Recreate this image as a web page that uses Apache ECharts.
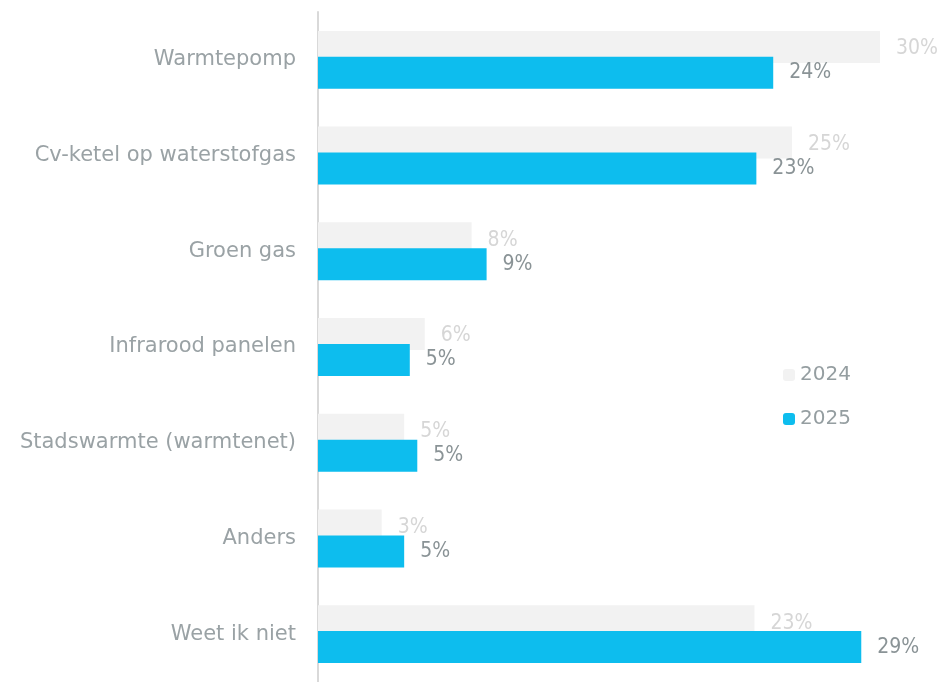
<!DOCTYPE html>
<html>
<head>
<meta charset="utf-8">
<script src="https://cdn.jsdelivr.net/npm/echarts@6/dist/echarts.min.js"></script>
<style>
  html, body { margin: 0; padding: 0; background: #fff; }
  #chart { width: 937px; height: 682px; }
</style>
</head>
<body>
<div id="chart"></div>
<script>
const categories = ['Warmtepomp', 'Cv-ketel op waterstofgas', 'Groen gas', 'Infrarood panelen',
  'Stadswarmte (warmtenet)', 'Anders', 'Weet ik niet'];
const years = ['2024', '2025'];
const values2024 = [30.0, 25.3, 8.2, 5.7, 4.6, 3.4, 23.3];
const values2025 = [24.3, 23.4, 9.0, 4.9, 5.3, 4.6, 29.0];

const labelFont = '"DejaVu Sans Condensed", "DejaVu Sans", sans-serif';
const pct = p => Math.round(p.value) + '%';

const chart = echarts.init(document.getElementById('chart'));
chart.setOption({
  animation: false,
  grid: { left: 318, right: 57, top: 12, bottom: 0, containLabel: false },
  legend: {
    data: years,
    orient: 'vertical',
    left: 778,
    top: 360,
    itemWidth: 12,
    itemHeight: 12,
    itemGap: 24,
    textStyle: { color: '#959ea1', fontSize: 20, fontFamily: 'DejaVu Sans' }
  },
  xAxis: {
    type: 'value',
    min: 0,
    max: 30,
    show: false
  },
  yAxis: {
    type: 'category',
    data: categories,
    inverse: true,
    axisLine: { show: true, lineStyle: { color: '#d9d9d9', width: 2 } },
    axisTick: { show: false },
    axisLabel: {
      color: '#9aa2a5', fontSize: 21, fontFamily: 'DejaVu Sans', margin: 22,
      padding: [4, 0, 0, 0]
    }
  },
  series: [
    {
      name: years[0],
      type: 'bar',
      data: values2024,
      barWidth: 32,
      barGap: '-19%',
      itemStyle: { color: '#f2f2f2' },
      label: {
        show: true, position: 'right', distance: 16, offset: [0, 2], formatter: pct,
        color: '#d6d6d6', fontSize: 21, fontFamily: labelFont
      }
    },
    {
      name: years[1],
      type: 'bar',
      data: values2025,
      barWidth: 32,
      barGap: '-19%',
      itemStyle: { color: '#0dbdee' },
      label: {
        show: true, position: 'right', distance: 16, formatter: pct,
        color: '#8a9396', fontSize: 21, fontFamily: labelFont
      }
    }
  ]
});
</script>
</body>
</html>
